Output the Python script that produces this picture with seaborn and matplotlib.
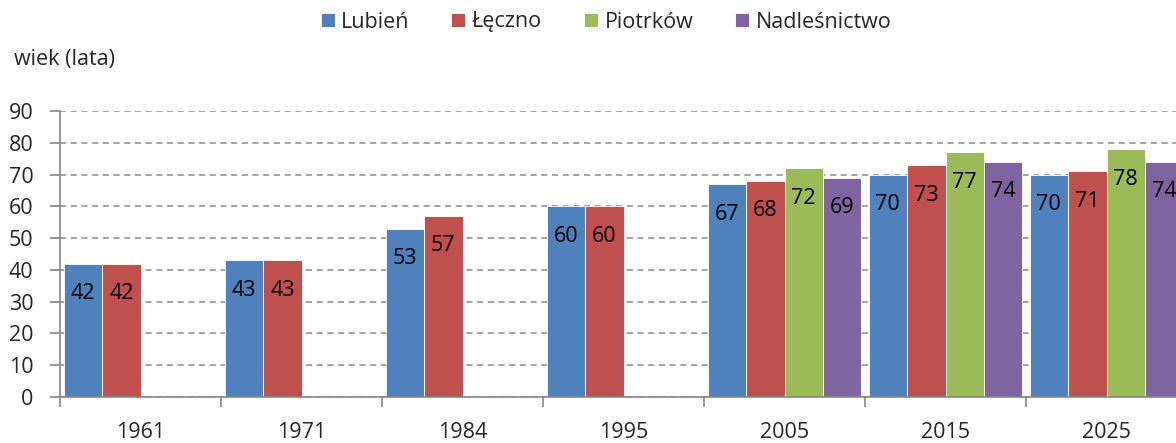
import numpy as np
import pandas as pd
import matplotlib
matplotlib.use("Agg")
import matplotlib.pyplot as plt
from matplotlib.ticker import FixedLocator
import seaborn as sns

# Mean stand age per forest district, by census year
years = ["1961", "1971", "1984", "1995", "2005", "2015", "2025"]
lubien = [42, 43, 53, 60, 67, 70, 70]
leczno = [42, 43, 57, 60, 68, 73, 71]
piotrkow = [np.nan, np.nan, np.nan, np.nan, 72, 77, 78]
nadlesnictwo = [np.nan, np.nan, np.nan, np.nan, 69, 74, 74]

series_names = ["Lubień", "Łęczno", "Piotrków", "Nadleśnictwo"]
series_values = [lubien, leczno, piotrkow, nadlesnictwo]
colors = ["#4F81BD", "#C0504D", "#9BBB59", "#8064A2"]

df = pd.DataFrame(
    [(y, name, v) for name, vals in zip(series_names, series_values)
     for y, v in zip(years, vals)],
    columns=["rok", "obszar", "wiek"],
)

sns.set_style("white")
plt.rcParams["font.family"] = ["Open Sans", "DejaVu Sans"]
FS = 15.5

fig = plt.figure(figsize=(11.76, 4.43), dpi=100)
ax = fig.add_axes([60 / 1176, 46 / 443, 1127 / 1176, 286 / 443])

sns.barplot(
    data=df, x="rok", y="wiek", hue="obszar",
    order=years, hue_order=series_names, palette=colors,
    width=0.955, gap=0, saturation=1, errorbar=None,
    edgecolor="white", linewidth=0.6, ax=ax, legend=True,
)

# Value labels just inside the top of each bar, taken from the data table
for container, name in zip(ax.containers, series_names):
    sub = df[(df["obszar"] == name)].dropna().reset_index(drop=True)
    for bar, v in zip(container, sub["wiek"]):
        ax.annotate(
            f"{v:.0f}",
            xy=(bar.get_x() + bar.get_width() / 2, v),
            xytext=(0, -30), textcoords="offset pixels",
            ha="center", va="center", fontsize=FS, color="black",
        )

ax.set_ylim(0, 90)
ax.set_xlim(-0.5, len(years) - 0.5)
ax.set_yticks(range(0, 91, 10))
ax.yaxis.grid(True, linestyle=(0, (4, 3)), color="#8c8c8c", linewidth=1.1)
ax.xaxis.grid(False)
ax.set_axisbelow(True)

ax.set_xlabel("")
ax.set_ylabel("")

for side in ["top", "right"]:
    ax.spines[side].set_visible(False)
for side in ["left", "bottom"]:
    ax.spines[side].set_color("#868686")
    ax.spines[side].set_linewidth(1.2)

ax.tick_params(axis="y", which="major", length=7, width=1.2, color="#868686",
               pad=12, labelsize=FS, direction="out", left=True)
ax.tick_params(axis="x", which="major", length=0, pad=18, labelsize=FS)
ax.xaxis.set_minor_locator(FixedLocator(np.arange(-0.5, len(years), 1.0)))
ax.tick_params(axis="x", which="minor", length=7, width=1.2, color="#868686",
               direction="out", bottom=True)

handles, labels = ax.get_legend_handles_labels()
ax.get_legend().remove()
fig.legend(
    handles, labels, loc="center", bbox_to_anchor=(606 / 1176, 1 - 22 / 443),
    ncol=4, frameon=False, fontsize=FS, handlelength=0.65, handleheight=0.65,
    handletextpad=0.3, columnspacing=1.95,
)

fig.text(14 / 1176, 1 - 60 / 443, "wiek (lata)", fontsize=FS,
         ha="left", va="center")

fig.savefig("out.png", dpi=100)
